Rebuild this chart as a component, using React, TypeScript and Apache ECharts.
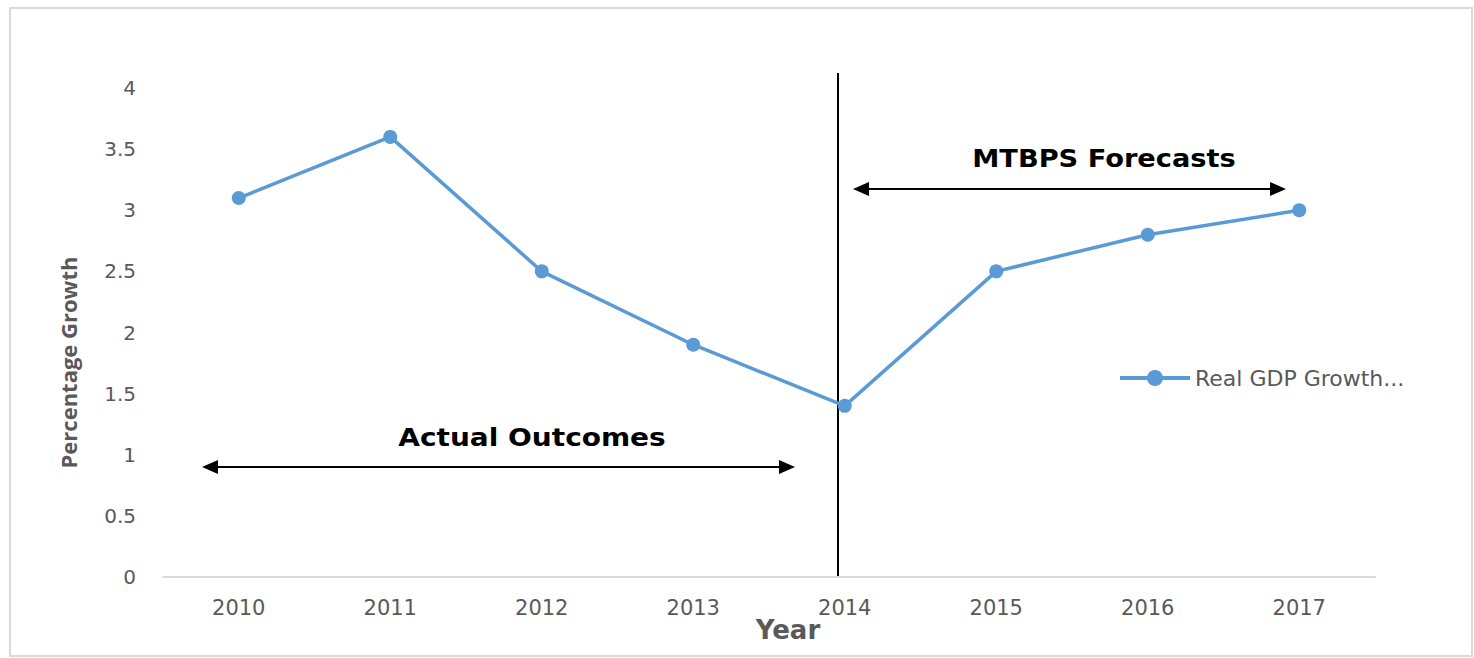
import React, { useEffect, useRef } from "react";
import * as echarts from "echarts";

const years = ["2010", "2011", "2012", "2013", "2014", "2015", "2016", "2017"];
const gdpGrowth = [3.1, 3.6, 2.5, 1.9, 1.4, 2.5, 2.8, 3.0];
const seriesName = "Real GDP Growth...";
const yTicks = { min: 0, max: 4, interval: 0.5 };

export default function App() {
  const ref = useRef<HTMLDivElement>(null);
  useEffect(() => {
    if (!ref.current) return;
    const chart = echarts.init(ref.current, null, { renderer: "svg" });
    const font = "'DejaVu Sans', sans-serif";
    const grey = "#595959";
    const arrow = (x1: number, x2: number, y: number) => [
      { type: "line", shape: { x1: x1 + 10, y1: y, x2: x2 - 10, y2: y }, style: { stroke: "#000", lineWidth: 2 } },
      { type: "polygon", shape: { points: [[x1, y], [x1 + 16, y - 7], [x1 + 16, y + 7]] }, style: { fill: "#000" } },
      { type: "polygon", shape: { points: [[x2, y], [x2 - 16, y - 7], [x2 - 16, y + 7]] }, style: { fill: "#000" } },
    ];
    chart.setOption({
      animation: false,
      backgroundColor: "#fff",
      grid: { left: 163, right: 99, top: 88, bottom: 81, containLabel: false },
      legend: {
        data: [seriesName],
        left: 1113,
        top: 362,
        itemWidth: 70,
        itemHeight: 20,
        itemGap: 6,
        lineStyle: { width: 4 },
        textStyle: { fontFamily: font, fontSize: 22, color: grey },
      },
      xAxis: {
        type: "category",
        data: years,
        boundaryGap: true,
        name: "Year",
        nameLocation: "middle",
        nameGap: 40,
        nameMoveOverlap: false,
        nameTextStyle: { fontFamily: font, fontSize: 26, fontWeight: "bold", color: grey, padding: [0, 0, 0, 38] },
        axisLine: { lineStyle: { color: "#d9d9d9", width: 2 } },
        axisTick: { show: false },
        axisLabel: { fontFamily: font, fontSize: 21, color: grey, margin: 20 },
      },
      yAxis: {
        type: "value",
        min: yTicks.min,
        max: yTicks.max,
        interval: yTicks.interval,
        name: "Percentage Growth",
        nameLocation: "middle",
        nameGap: 84,
        nameTextStyle: { fontFamily: "'Open Sans', sans-serif", fontSize: 22, fontWeight: "bold", color: grey, padding: [0, 60, 0, 0] },
        axisLine: { show: false },
        axisTick: { show: false },
        splitLine: { show: false },
        axisLabel: { fontFamily: font, fontSize: 20, color: grey, margin: 27 },
      },
      series: [
        {
          name: seriesName,
          type: "line",
          data: gdpGrowth,
          symbol: "circle",
          symbolSize: 14,
          lineStyle: { color: "#5b9bd5", width: 3.5 },
          itemStyle: { color: "#5b9bd5" },
        },
      ],
      graphic: [
        { type: "rect", shape: { x: 10, y: 8, width: 1462, height: 648 }, style: { fill: "none", stroke: "#d9d9d9", lineWidth: 2 }, silent: true },
        { type: "line", shape: { x1: 838, y1: 73, x2: 838, y2: 577 }, style: { stroke: "#000", lineWidth: 2 } },
        ...arrow(202, 795, 467),
        ...arrow(853, 1286, 189),
        { type: "text", x: 532, y: 437, scaleX: 1.12, style: { text: "Actual Outcomes", font: `bold 25px ${font}`, fill: "#000", textAlign: "center", textVerticalAlign: "middle" } },
        { type: "text", x: 1104, y: 158, scaleX: 1.09, style: { text: "MTBPS Forecasts", font: `bold 25px ${font}`, fill: "#000", textAlign: "center", textVerticalAlign: "middle" } },
      ],
    });
    return () => chart.dispose();
  }, []);
  return <div ref={ref} style={{ position: "fixed", left: 0, top: 0, width: 1474, height: 658 }} />;
}
